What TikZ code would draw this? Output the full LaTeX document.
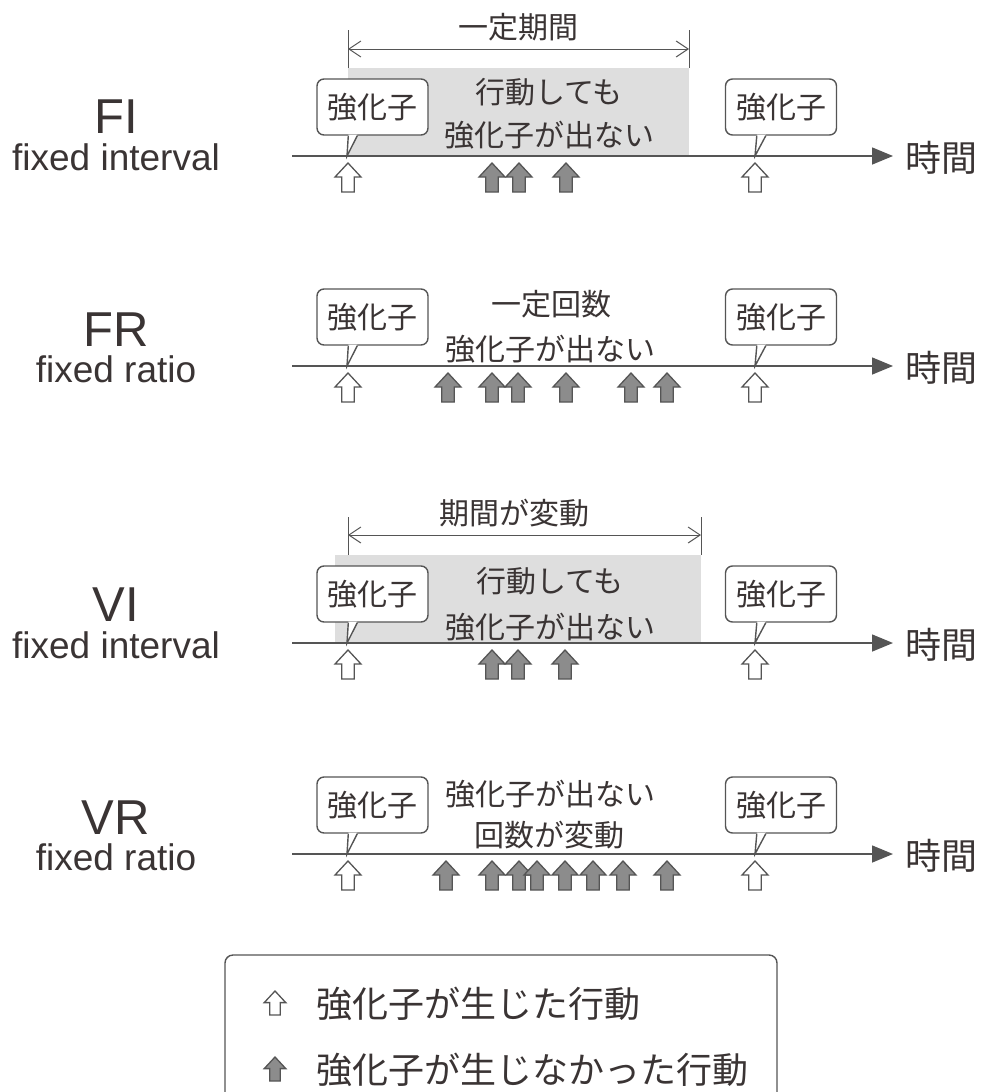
\documentclass[tikz,border=0pt]{standalone}
\usepackage{fontspec}
\setmainfont{Noto Sans CJK JP}
\newfontfamily\latinfont{Liberation Sans}
\usepackage{tikz}
\usetikzlibrary{arrows.meta}
\usepackage{xcolor}

\definecolor{ink}{RGB}{58,52,52}
\definecolor{linegray}{RGB}{85,85,85}
\definecolor{quietgray}{RGB}{222,222,222}
\definecolor{missgray}{RGB}{140,140,140}

% tail of a speech bubble: #1 bubble node, #2 point on the time line
\newcommand{\bubbletail}[2]{%
  \fill[white] ([xshift=32pt,yshift=1pt]#1.south west) -- (#2) -- ([xshift=41pt,yshift=1pt]#1.south west) -- cycle;
  \draw[draw=linegray, line width=1.4pt] ([xshift=32pt]#1.south west) -- (#2) -- ([xshift=41pt]#1.south west);
}

\begin{document}
\begin{tikzpicture}[
    x=1pt, y=-1pt,
    jtext/.style={font=\fontsize{30pt}{30pt}\selectfont, text=ink, inner sep=0pt},
    bigtext/.style={font=\fontsize{36pt}{36pt}\selectfont, text=ink, inner sep=0pt},
    schedlabel/.style={font=\latinfont\fontsize{49pt}{49pt}\selectfont, text=ink, inner sep=0pt, anchor=base},
    schedname/.style={font=\latinfont\fontsize{37pt}{37pt}\selectfont, text=ink, inner sep=0pt, anchor=base},
    bubble/.style={draw=linegray, fill=white, line width=1.4pt, rounded corners=7pt, minimum width=111pt, minimum height=56pt, inner sep=0pt, font=\fontsize{30pt}{30pt}\selectfont, text=ink},
    timeline/.style={draw=linegray, line width=1.5pt, -{Triangle[length=21pt, width=17pt]}, shorten >=12pt},
    spanarrow/.style={draw=linegray, line width=1pt, {Straight Barb[length=12pt, width=16pt]}-{Straight Barb[length=12pt, width=16pt]}},
    spantick/.style={draw=linegray, line width=1pt},
    quietzone/.style={fill=quietgray},
    legendbox/.style={draw=linegray, line width=1.4pt, rounded corners=8pt},
    beharrow/.style={draw=linegray, line width=1.3pt},
    reinf/.pic={\draw[beharrow, fill=white] (0,0) -- (13,14) -- (6.3,14) -- (6.3,29) -- (-6.3,29) -- (-6.3,14) -- (-13,14) -- cycle;},
    noreinf/.pic={\draw[beharrow, fill=missgray] (0,0) -- (13,14) -- (6.3,14) -- (6.3,29) -- (-6.3,29) -- (-6.3,14) -- (-13,14) -- cycle;}
]
\useasboundingbox (0,0) rectangle (981,1092);

% FI
\node[schedlabel] (fi) at (116,133) {FI};
\node[schedname] (fi-name) at (116,170) {fixed interval};
\fill[quietzone] (348,68) rectangle (689,155.5);
\draw[spantick] (348,30) -- (348,68);
\draw[spantick] (689,30) -- (689,68);
\draw[spanarrow] (348,49) -- (689,49);
\node[jtext] (fi-span) at (518,27) {一定期間};
\node[bigtext, anchor=west] (fi-time) at (905,158) {時間};
\coordinate (fi-start) at (292,156);
\draw[timeline] (fi-start) -- (fi-start -| fi-time.west);
\node[bubble] (fi-r1) at (372.5,107) {強化子};
\node[bubble] (fi-r2) at (781,107) {強化子};
\bubbletail{fi-r1}{347,156}
\bubbletail{fi-r2}{755,156}
\node[jtext] (fi-t1) at (549,92) {行動しても};
\node[jtext] (fi-t2) at (549,135) {強化子が出ない};
\path (348,163) pic {reinf} (755,163) pic {reinf}
      (492,163) pic {noreinf} (519,163) pic {noreinf} (566,163) pic {noreinf};

% FR
\node[schedlabel] (fr) at (116,346) {FR};
\node[schedname] (fr-name) at (116,382) {fixed ratio};
\node[bigtext, anchor=west] (fr-time) at (905,368) {時間};
\coordinate (fr-start) at (292,366);
\draw[timeline] (fr-start) -- (fr-start -| fr-time.west);
\node[bubble] (fr-r1) at (372.5,317) {強化子};
\node[bubble] (fr-r2) at (781,317) {強化子};
\bubbletail{fr-r1}{347,366}
\bubbletail{fr-r2}{755,366}
\node[jtext] (fr-t1) at (551,304) {一定回数};
\node[jtext] (fr-t2) at (550,349) {強化子が出ない};
\path (348,373) pic {reinf} (755,373) pic {reinf}
      (448,373) pic {noreinf} (492,373) pic {noreinf} (518,373) pic {noreinf}
      (566,373) pic {noreinf} (631,373) pic {noreinf} (667,373) pic {noreinf};

% VI
\node[schedlabel] (vi) at (116,621) {VI};
\node[schedname] (vi-name) at (116,658) {fixed interval};
\fill[quietzone] (335,555) rectangle (701,642.5);
\draw[spantick] (348,517) -- (348,555);
\draw[spantick] (701,517) -- (701,555);
\draw[spanarrow] (348,535) -- (701,535);
\node[jtext] (vi-span) at (514,513) {期間が変動};
\node[bigtext, anchor=west] (vi-time) at (905,645) {時間};
\coordinate (vi-start) at (292,643);
\draw[timeline] (vi-start) -- (vi-start -| vi-time.west);
\node[bubble] (vi-r1) at (372.5,594) {強化子};
\node[bubble] (vi-r2) at (781,594) {強化子};
\bubbletail{vi-r1}{347,643}
\bubbletail{vi-r2}{755,643}
\node[jtext] (vi-t1) at (550,581) {行動しても};
\node[jtext] (vi-t2) at (550,627) {強化子が出ない};
\path (348,650) pic {reinf} (755,650) pic {reinf}
      (492,650) pic {noreinf} (518,650) pic {noreinf} (565,650) pic {noreinf};

% VR
\node[schedlabel] (vr) at (116,834) {VR};
\node[schedname] (vr-name) at (116,870) {fixed ratio};
\node[bigtext, anchor=west] (vr-time) at (905,856) {時間};
\coordinate (vr-start) at (292,854);
\draw[timeline] (vr-start) -- (vr-start -| vr-time.west);
\node[bubble] (vr-r1) at (372.5,805) {強化子};
\node[bubble] (vr-r2) at (781,805) {強化子};
\bubbletail{vr-r1}{347,854}
\bubbletail{vr-r2}{755,854}
\node[jtext] (vr-t1) at (550,794) {強化子が出ない};
\node[jtext] (vr-t2) at (549,835) {回数が変動};
\path (348,861) pic {reinf} (755,861) pic {reinf}
      (446,861) pic {noreinf} (492,861) pic {noreinf} (519,861) pic {noreinf} (537,861) pic {noreinf}
      (565,861) pic {noreinf} (593,861) pic {noreinf} (623,861) pic {noreinf} (667,861) pic {noreinf};

% Legend
\draw[legendbox] (225,1094) -- (225,955) -- (777,955) -- (777,1094);
\path (275,991) pic[scale=0.83] {reinf} (275,1057) pic[scale=0.83] {noreinf};
\node[bigtext, anchor=west] (key-yes) at (316,1004) {強化子が生じた行動};
\node[bigtext, anchor=west] (key-no) at (316,1070) {強化子が生じなかった行動};

\end{tikzpicture}
\end{document}
